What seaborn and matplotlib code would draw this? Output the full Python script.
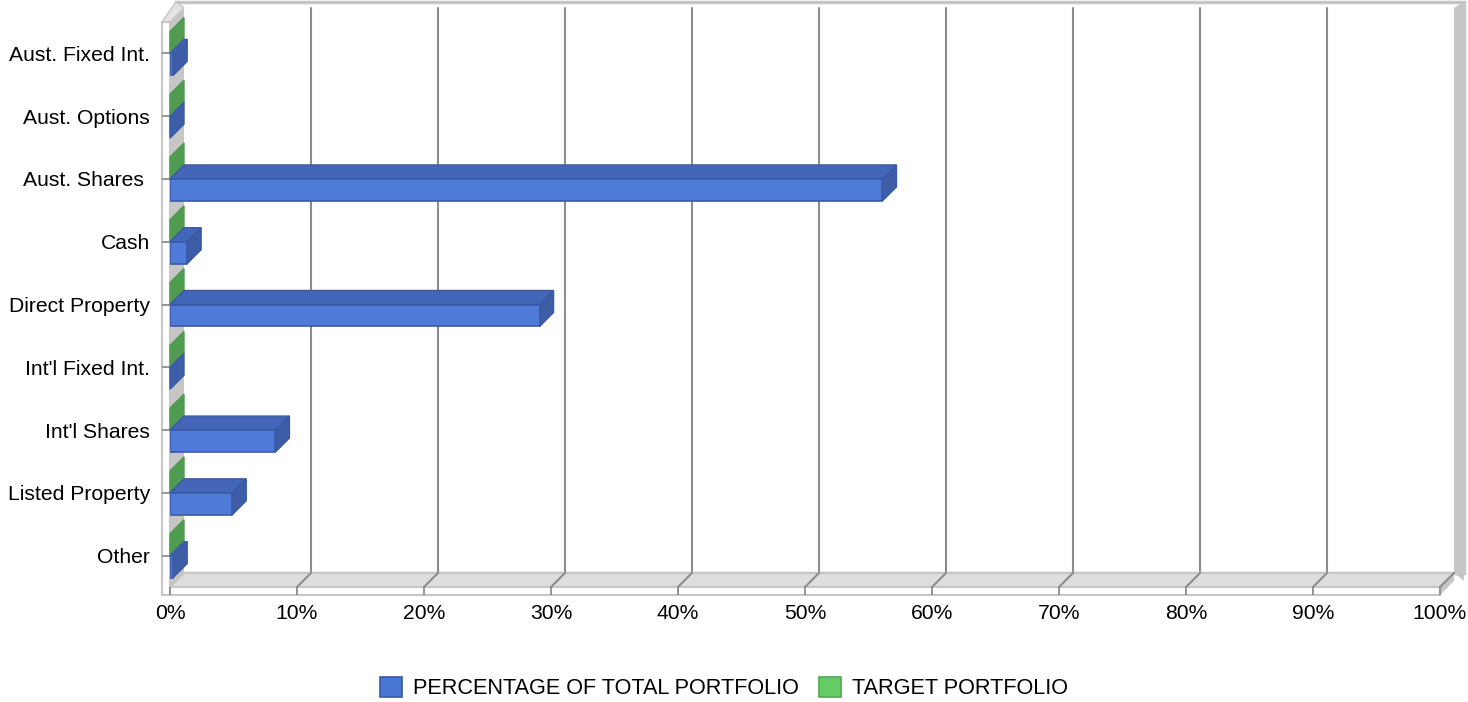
import numpy as np
import pandas as pd
import seaborn as sns
import matplotlib.pyplot as plt
from matplotlib.patches import Polygon, Patch

# data
categories = ["Aust. Fixed Int.", "Aust. Options", "Aust. Shares ", "Cash", "Direct Property",
              "Int'l Fixed Int.", "Int'l Shares", "Listed Property", "Other"]
portfolio = [0.25, 0.0, 56.1, 1.35, 29.1, 0.0, 8.3, 4.9, 0.25]
target = [0, 0, 0, 0, 0, 0, 0, 0, 0]
series = ["PERCENTAGE OF TOTAL PORTFOLIO", "TARGET PORTFOLIO"]
xticks = [0, 10, 20, 30, 40, 50, 60, 70, 80, 90, 100]
xlabels = ["0%", "10%", "20%", "30%", "40%", "50%", "60%", "70%", "80%", "90%", "100%"]

df = pd.DataFrame({
    "category": categories * 2,
    "value": portfolio + target,
    "series": [series[0]] * len(categories) + [series[1]] * len(categories),
})

blue_front, blue_top, blue_side, blue_edge = "#4f7bd8", "#4466b8", "#3d5da7", "#3b5aa6"
green_side, green_top = "#4f9b50", "#4a9649"
grid_c = "#8c8c8c"
wall_c = "#c6c6c6"

sns.set_theme(style="white")
plt.rcParams["font.family"] = ["Liberation Sans", "DejaVu Sans"]

fig = plt.figure(figsize=(14.68, 7.02), dpi=100)
ax = fig.add_axes([170 / 1468, 1 - 587 / 702, 1270 / 1468, 565 / 702])
ax.set_facecolor("none")

sns.barplot(data=df, x="value", y="category", hue="series", orient="h",
            hue_order=[series[1], series[0]], palette=["#66cc66", blue_front],
            saturation=1, width=0.7, legend=False, ax=ax, edgecolor=blue_edge, linewidth=1.2)
bar_patches = list(ax.patches)

ax.set_xlim(0, 100)
ax.set_ylim(8.5, -0.5)
ax.set_axisbelow(False)

# depth offset (14px right, 14px up) in data units
px = 12.7
py = 565 / 9
dx = 14 / px
dy = -14 / py
fy = 8 / py   # floor / wall thickness
fx = 8 / px

def poly(pts, fc, ec="none", lw=0, z=1):
    ax.add_patch(Polygon(pts, closed=True, facecolor=fc, edgecolor=ec, linewidth=lw,
                         zorder=z, clip_on=False))

# back wall
rw = 10 / px
poly([(dx - fx, -0.5 + dy - 0.1), (100 + dx + rw, -0.5 + dy - 0.1),
      (100 + dx + rw, 8.5 + dy), (dx - fx, 8.5 + dy)], "white", wall_c, 2.5, 0.3)
poly([(100 + dx, -0.5 + dy), (100 + dx + rw, -0.5 + dy - 0.1),
      (100 + dx + rw, 8.5 + dy + fy), (100 + dx, 8.5 + dy)], wall_c, z=0.35)
for x in xticks[1:-1]:
    ax.plot([x + dx, x + dx], [-0.5 + dy, 8.5 + dy], color=grid_c, lw=1.5, zorder=0.4, clip_on=False)

# left wall
poly([(0, -0.5), (dx, -0.5 + dy), (dx, 8.5 + dy), (0, 8.5)], wall_c, z=0.5)
poly([(-fx, -0.5), (dx - fx, -0.5 + dy - 0.1), (dx, -0.5 + dy), (0, -0.5)], "#e4e4e4", wall_c, 1, 0.5)
poly([(-fx, -0.5), (0, -0.5), (0, 8.5 + fy), (-fx, 8.5 + fy)], "white", wall_c, 1.5, 0.55)

# floor
poly([(0, 8.5), (100, 8.5), (100 + dx, 8.5 + dy), (dx, 8.5 + dy)], "#dedede", wall_c, 1.5, 0.6)
poly([(0, 8.5), (100, 8.5), (100, 8.5 + fy), (0, 8.5 + fy)], "white", wall_c, 1.5, 0.6)
poly([(100, 8.5), (100 + dx, 8.5 + dy), (100 + dx, 8.5 + dy + fy), (100, 8.5 + fy)], wall_c, z=0.6)
for x in xticks[1:]:
    ax.plot([x, x + dx], [8.5, 8.5 + dy], color=grid_c, lw=1.5, zorder=0.7, clip_on=False)

# 3d faces on each bar
bars = sorted(bar_patches, key=lambda p: p.get_y())
for i, p in enumerate(bars):
    x0, w = p.get_x(), p.get_width()
    y0 = min(p.get_y(), p.get_y() + p.get_height())
    y1 = max(p.get_y(), p.get_y() + p.get_height())
    is_blue = p.get_facecolor()[2] > 0.6
    top_c = blue_top if is_blue else green_top
    side_c = blue_side if is_blue else green_side
    ec = blue_edge if is_blue else green_side
    z = 3 + i * 0.1
    if w > 0:
        poly([(x0, y0), (x0 + w, y0), (x0 + w + dx, y0 + dy), (x0 + dx, y0 + dy)], top_c, ec, 1, z)
    poly([(x0 + w, y0), (x0 + w + dx, y0 + dy), (x0 + w + dx, y1 + dy), (x0 + w, y1)], side_c, ec, 1, z)
    p.set_zorder(z + 0.05)
    if not is_blue:
        p.set_linewidth(0)

for s in ax.spines.values():
    s.set_visible(False)

ax.set_xticks(xticks)
ax.set_xticklabels(xlabels)
ax.set_xlabel("")
ax.set_ylabel("")
ax.tick_params(axis="both", direction="out", length=6, width=1.3, color=grid_c,
               labelsize=15.2, labelcolor="black")
ax.tick_params(axis="y", pad=8.5, left=True)
ax.tick_params(axis="x", pad=6, bottom=True)

handles = [Patch(facecolor="#4a77d4", edgecolor="#3a5aa6", linewidth=1.2),
           Patch(facecolor="#66cc66", edgecolor="#52a852", linewidth=1.2)]
fig.legend(handles, series, loc="center", bbox_to_anchor=(724 / 1468, 1 - 688 / 702),
           ncol=2, frameon=False, fontsize=15.6, handlelength=1.05, handleheight=1.1,
           handletextpad=0.5, columnspacing=0.9, labelcolor="black")

fig.savefig("out.png", dpi=100)
